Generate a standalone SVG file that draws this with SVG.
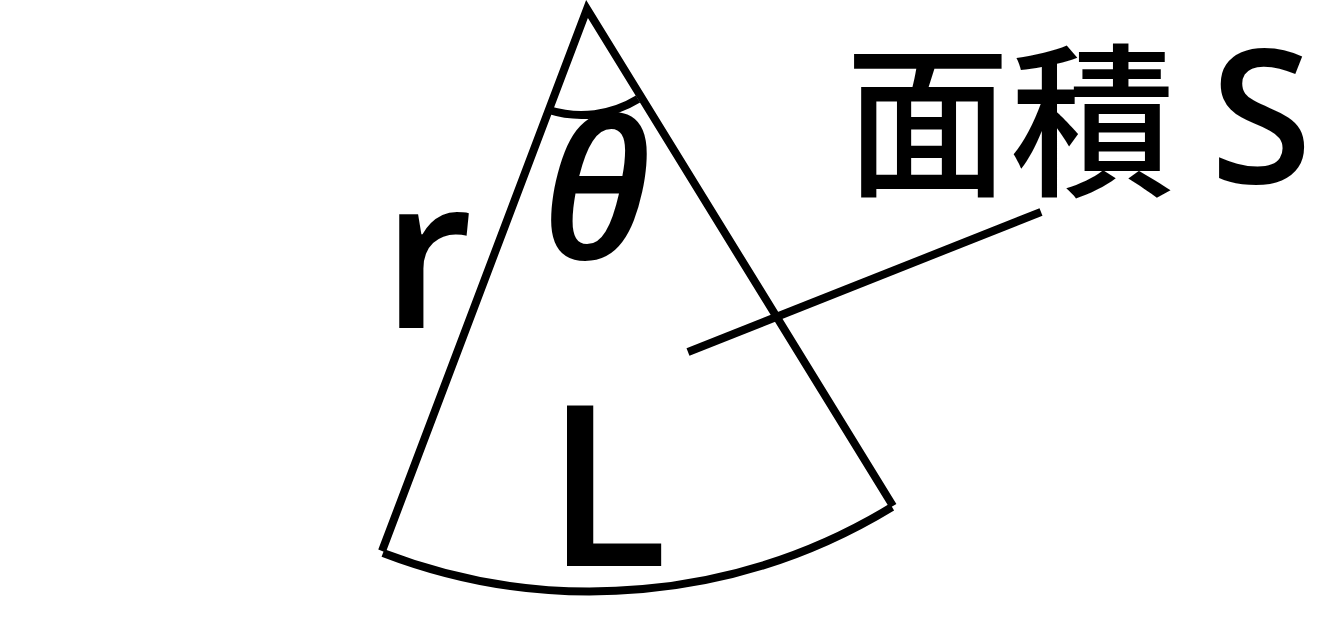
<svg xmlns="http://www.w3.org/2000/svg" width="1333" height="644" viewBox="0 0 1333 644">
<style>
.ln{fill:none;stroke:#000;stroke-width:8;stroke-linejoin:miter;stroke-miterlimit:20}
.t{font-family:"Open Sans","Noto Sans CJK JP",sans-serif;fill:#000;font-weight:600}
</style>
<rect width="1333" height="644" fill="#fff"/>
<g id="sector">
<path class="ln" d="M382,551 L587,9 L893,506"/>
<path class="ln" d="M383,553 A580,580 0 0 0 892,507"/>
<path class="ln" d="M549,110 A108,108 0 0 0 638,99"/>
</g>
<g id="connectors">
<line class="ln" x1="688" y1="352" x2="1041" y2="212"/>
</g>
<g id="labels">
<text id="theta" class="t" x="596" y="259" font-size="192" font-style="italic" font-weight="500" text-anchor="middle">θ</text>
<text id="r" class="t" x="382" y="328" font-size="210">r</text>
<text id="L" class="t" x="546" y="566" font-size="224">L</text>
<text id="S" class="t" y="183"><tspan x="845" font-family="Noto Sans CJK JP,sans-serif" font-weight="500" font-size="165">面積</tspan><tspan x="1210" font-size="186">S</tspan></text>
</g>
</svg>
